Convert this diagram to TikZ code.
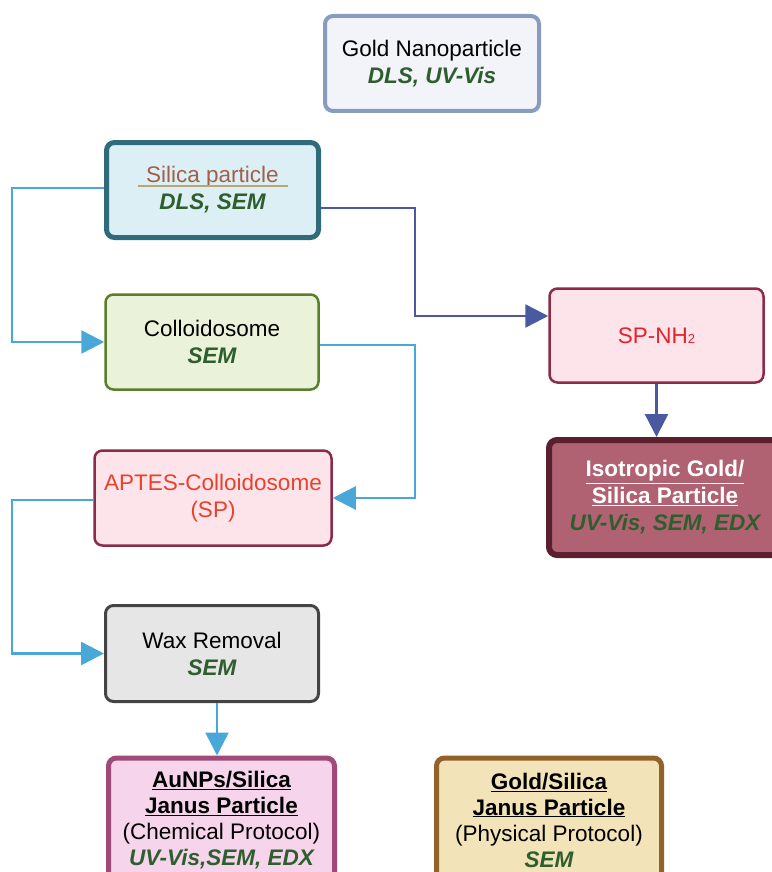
\documentclass[tikz,border=0pt]{standalone}
\usepackage{fontspec}
\setmainfont{Liberation Sans}
\usetikzlibrary{arrows.meta}
\definecolor{gnpB}{HTML}{8A9BC0}\definecolor{gnpF}{HTML}{F2F4FA}
\definecolor{silB}{HTML}{2F6B7A}\definecolor{silF}{HTML}{DBEFF5}
\definecolor{colB}{HTML}{5A7F2A}\definecolor{colF}{HTML}{EAF3DA}
\definecolor{apB}{HTML}{8B2B48}\definecolor{apF}{HTML}{FCE4EA}
\definecolor{waxB}{HTML}{444444}\definecolor{waxF}{HTML}{E6E6E6}
\definecolor{auB}{HTML}{A04A7A}\definecolor{auF}{HTML}{F6D5EC}
\definecolor{gsB}{HTML}{93622A}\definecolor{gsF}{HTML}{F2E3B8}
\definecolor{isoB}{HTML}{5A2030}\definecolor{isoF}{HTML}{B06272}
\definecolor{grn}{HTML}{2E5E2E}
\definecolor{brn}{HTML}{A0604A}
\definecolor{olv}{HTML}{B8A770}
\definecolor{redA}{HTML}{E8412C}
\definecolor{redB}{HTML}{E8202C}
\definecolor{lblue}{HTML}{4AA8D8}
\definecolor{dblue}{HTML}{4A5AA0}
\newcommand{\tech}[1]{{\color{grn}\bfseries\itshape #1}}
\tikzset{
  box/.style={rectangle, rounded corners=8pt, align=center, inner sep=0pt,
    font=\fontsize{22.5}{27}\selectfont},
  lconn/.style={draw=lblue, line width=2.5pt, -{Triangle[length=23pt,width=23pt]}},
  dconn/.style={draw=dblue, line width=2.5pt, -{Triangle[length=23pt,width=23pt]}},
}
\begin{document}
\begin{tikzpicture}[x=1pt,y=-1pt]
\useasboundingbox (0,0) rectangle (771,872);
\node[box, draw=gnpB, fill=gnpF, line width=4pt, minimum width=214pt, minimum height=95pt] (gnp) at (432,63.5)
  {Gold Nanoparticle\\ \tech{DLS, UV-Vis}};
\node[box, draw=silB, fill=silF, line width=5pt, minimum width=212pt, minimum height=95pt] (sil) at (212.5,190)
  {{\color{brn}Silica particle}\\[-23pt]{\color{olv}\rule{150pt}{1.5pt}}\\[-4pt] \tech{DLS, SEM}};
\node[box, draw=colB, fill=colF, line width=2.5pt, minimum width=213pt, minimum height=95pt] (col) at (212,342)
  {Colloidosome\\ \tech{SEM}};
\node[box, draw=apB, fill=apF, line width=2.5pt, minimum width=237pt, minimum height=95pt] (apt) at (213,498)
  {\color{redA}APTES-Colloidosome\\ \color{redA}(SP)};
\node[box, draw=waxB, fill=waxF, line width=3pt, minimum width=213pt, minimum height=96pt] (wax) at (212,653.5)
  {Wax Removal\\ \tech{SEM}};
\node[box, draw=auB, fill=auF, line width=5pt, minimum width=226pt, minimum height=124pt] (aun) at (221.5,820)
  {\bfseries\underline{AuNPs/Silica}\\[-1pt] \bfseries\underline{Janus Particle}\\[-1pt] (Chemical Protocol)\\[-1pt] \tech{UV-Vis,SEM, EDX}};
\node[box, draw=gsB, fill=gsF, line width=5pt, minimum width=225pt, minimum height=124pt] (gsj) at (549,820)
  {\bfseries\underline{Gold/Silica}\\[-1pt] \bfseries\underline{Janus Particle}\\[-1pt] (Physical Protocol)\\[-1pt] \tech{SEM}};
\node[box, draw=apB, fill=apF, line width=2.5pt, minimum width=214pt, minimum height=94pt] (spn) at (656.5,335.5)
  {\color{redB}SP-NH{\fontsize{13}{13}\selectfont 2}};
\node[box, draw=isoB, fill=isoF, line width=6pt, minimum width=232pt, minimum height=115pt] (iso) at (665,497.5)
  {\color{white}\bfseries\underline{Isotropic Gold/}\\ \color{white}\bfseries\underline{Silica Particle}\\ \tech{UV-Vis, SEM, EDX}};
% connectors
\coordinate (c1) at (12,188);
\draw[lconn] (sil.west |- c1) -- (c1) |- (col.west);
\coordinate (c2) at (415,345);
\draw[lconn] (col.east |- c2) -- (c2) |- (apt.east);
\coordinate (c3) at (12,500);
\draw[lconn] (apt.west |- c3) -- (c3) |- (wax.west);
\coordinate (c5) at (217,0);
\draw[lconn] (wax.south -| c5) -- (aun.north -| c5);
\coordinate (c4) at (415,208);
\coordinate (c6) at (0,316);
\draw[dconn] (sil.east |- c4) -- (c4) |- (spn.west |- c6);
\draw[dconn] (spn.south) -- (spn.south |- iso.north);
\end{tikzpicture}
\end{document}
